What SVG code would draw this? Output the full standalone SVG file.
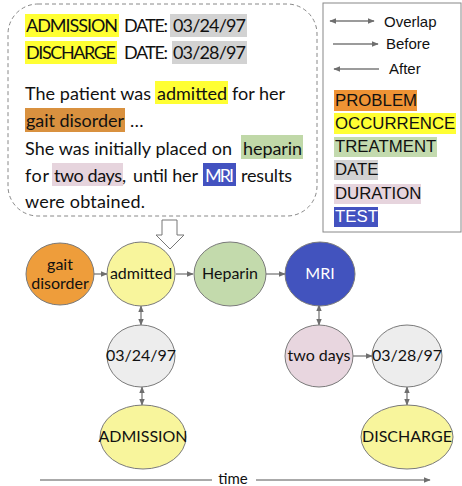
<svg xmlns="http://www.w3.org/2000/svg" width="462" height="486" viewBox="0 0 462 486">
<style>
.t{font-family:Lato,"Open Sans","Liberation Sans",sans-serif;font-size:18px;fill:#111}
.n{font-family:Lato,"Open Sans","Liberation Sans",sans-serif;font-size:16px;fill:#111;text-anchor:middle}
.lg{font-family:"Liberation Sans",Arial,sans-serif;font-size:16.8px;fill:#111}
.la{font-family:"Liberation Sans",Arial,sans-serif;font-size:15px;fill:#111}
.nd{stroke:#7a7a7a;stroke-width:1}
.c{stroke:#7a7a7a;stroke-width:1.3;fill:none}
</style>
<defs>
<marker id="ah" viewBox="0 0 10 10" refX="9" refY="5" markerWidth="7" markerHeight="7" orient="auto-start-reverse" markerUnits="userSpaceOnUse">
<path d="M0,1 L10,5 L0,9 Z" fill="#6e6e6e"/>
</marker>
</defs>
<rect width="462" height="486" fill="#fff"/>

<g id="text-box">
<rect x="8" y="4" width="309" height="212" rx="30" fill="none" stroke="#888" stroke-dasharray="4,3"/>
<rect x="25" y="14" width="94" height="23" fill="#FFFF33"/>
<rect x="170" y="14" width="77" height="23" fill="#D2D2D2"/>
<rect x="25" y="41" width="92" height="23" fill="#FFFF33"/>
<rect x="172" y="41" width="75" height="23" fill="#D2D2D2"/>
<rect x="155" y="81" width="73" height="23" fill="#FFFF33"/>
<rect x="25" y="108" width="100" height="24" fill="#D9913F"/>
<rect x="241" y="135" width="62" height="24" fill="#C0D8A8"/>
<rect x="52" y="163" width="71" height="23" fill="#E6D4DD"/>
<rect x="203" y="163" width="33" height="23" fill="#4352C0"/>
<text class="t" x="26" y="32" textLength="92">ADMISSION</text>
<text class="t" x="124" y="32" textLength="44">DATE:</text>
<text class="t" x="173" y="32" textLength="73">03/24/97</text>
<text class="t" x="26" y="59" textLength="90">DISCHARGE</text>
<text class="t" x="124" y="59" textLength="44">DATE:</text>
<text class="t" x="173" y="59" textLength="73">03/28/97</text>
<text class="t" x="25" y="100" textLength="126">The patient was</text>
<text class="t" x="157" y="100" textLength="70">admitted</text>
<text class="t" x="232" y="100" textLength="53">for her</text>
<text class="t" x="26" y="127" textLength="98">gait disorder</text>
<text class="t" x="130" y="127">…</text>
<text class="t" x="25" y="155" textLength="207">She was initially placed on</text>
<text class="t" x="243" y="155" textLength="59">heparin</text>
<text class="t" x="25" y="182" textLength="24">for</text>
<text class="t" x="54" y="182" textLength="68">two days</text>
<text class="t" x="122" y="182">,</text>
<text class="t" x="133" y="182" textLength="65">until her</text>
<text class="t" x="205" y="182" textLength="29" style="fill:#fff">MRI</text>
<text class="t" x="241" y="182" textLength="51">results</text>
<text class="t" x="25" y="208" textLength="120">were obtained.</text>
</g>

<g id="legend">
<rect x="323" y="3" width="138" height="229" fill="none" stroke="#888" stroke-width="1"/>
<line x1="330" y1="21" x2="374" y2="21" class="c" marker-start="url(#ah)" marker-end="url(#ah)"/>
<text class="la" x="384" y="27">Overlap</text>
<line x1="333" y1="44" x2="378" y2="44" class="c" marker-end="url(#ah)"/>
<text class="la" x="386" y="49">Before</text>
<line x1="379" y1="69" x2="334" y2="69" class="c" marker-end="url(#ah)"/>
<text class="la" x="389" y="74">After</text>
<rect x="334" y="90" width="83" height="21" fill="#EF9334"/>
<text class="lg" x="335" y="106">PROBLEM</text>
<rect x="334" y="113" width="122" height="21" fill="#FFFF33"/>
<text class="lg" x="335" y="129">OCCURRENCE</text>
<rect x="334" y="137" width="103" height="20" fill="#C3DAAE"/>
<text class="lg" x="335" y="152">TREATMENT</text>
<rect x="334" y="160" width="44" height="20" fill="#D2D2D2"/>
<text class="lg" x="335" y="175">DATE</text>
<rect x="334" y="184" width="87" height="20" fill="#E6D4DD"/>
<text class="lg" x="335" y="199">DURATION</text>
<rect x="334" y="207" width="44" height="20" fill="#4352C0"/>
<text class="lg" x="335" y="222" style="fill:#fff">TEST</text>
</g>

<g id="hollow-arrow">
<path d="M162,220 L177,220 L177,235 L184,235 L170,249 L156,235 L162,235 Z" fill="#fff" stroke="#777" stroke-width="1"/>
</g>

<g id="connectors">
<line x1="94" y1="274" x2="107" y2="274" class="c" marker-end="url(#ah)"/>
<line x1="176" y1="274" x2="193" y2="274" class="c" marker-end="url(#ah)"/>
<line x1="266" y1="274" x2="285" y2="274" class="c" marker-end="url(#ah)"/>
<line x1="141" y1="306" x2="141" y2="325" class="c" marker-start="url(#ah)" marker-end="url(#ah)"/>
<line x1="319" y1="305" x2="319" y2="325" class="c" marker-start="url(#ah)" marker-end="url(#ah)"/>
<line x1="353" y1="356" x2="372" y2="356" class="c" marker-end="url(#ah)"/>
<line x1="142" y1="387" x2="142" y2="405" class="c" marker-start="url(#ah)" marker-end="url(#ah)"/>
<line x1="407" y1="387" x2="407" y2="405" class="c" marker-start="url(#ah)" marker-end="url(#ah)"/>
<line x1="40" y1="480" x2="212" y2="480" stroke="#555" stroke-width="1"/>
<line x1="256" y1="480" x2="430" y2="480" stroke="#555" stroke-width="1" marker-end="url(#ah)"/>
</g>
<text class="n" x="233" y="484" style="font-size:15px">time</text>

<g id="node-gait-disorder">
<ellipse cx="60" cy="274" rx="34" ry="31" fill="#EE9D3B" class="nd"/>
<text class="n" x="60" y="270">gait</text>
<text class="n" x="60" y="289">disorder</text>
</g>
<g id="node-admitted">
<ellipse cx="141" cy="274" rx="34" ry="32" fill="#F8F59C" class="nd"/>
<text class="n" x="141" y="279">admitted</text>
</g>
<g id="node-heparin">
<ellipse cx="230" cy="274" rx="36" ry="32" fill="#C3DAAC" class="nd"/>
<text class="n" x="230" y="279">Heparin</text>
</g>
<g id="node-mri">
<ellipse cx="320" cy="274" rx="35" ry="32" fill="#4253BE" class="nd"/>
<text class="n" x="320" y="279" style="fill:#fff">MRI</text>
</g>
<g id="node-date1">
<ellipse cx="141" cy="356" rx="34" ry="31" fill="#EDEDED" class="nd"/>
<text class="n" x="141" y="361">03/24/97</text>
</g>
<g id="node-two-days">
<ellipse cx="319" cy="356" rx="34" ry="31" fill="#E8D6DF" class="nd"/>
<text class="n" x="319" y="361">two days</text>
</g>
<g id="node-date2">
<ellipse cx="407" cy="356" rx="35" ry="31" fill="#EDEDED" class="nd"/>
<text class="n" x="407" y="361">03/28/97</text>
</g>
<g id="node-admission">
<ellipse cx="143" cy="437" rx="43" ry="32" fill="#F8F59C" class="nd"/>
<text class="n" x="143" y="442">ADMISSION</text>
</g>
<g id="node-discharge">
<ellipse cx="407" cy="437" rx="46" ry="32" fill="#F8F59C" class="nd"/>
<text class="n" x="407" y="442">DISCHARGE</text>
</g>
</svg>
